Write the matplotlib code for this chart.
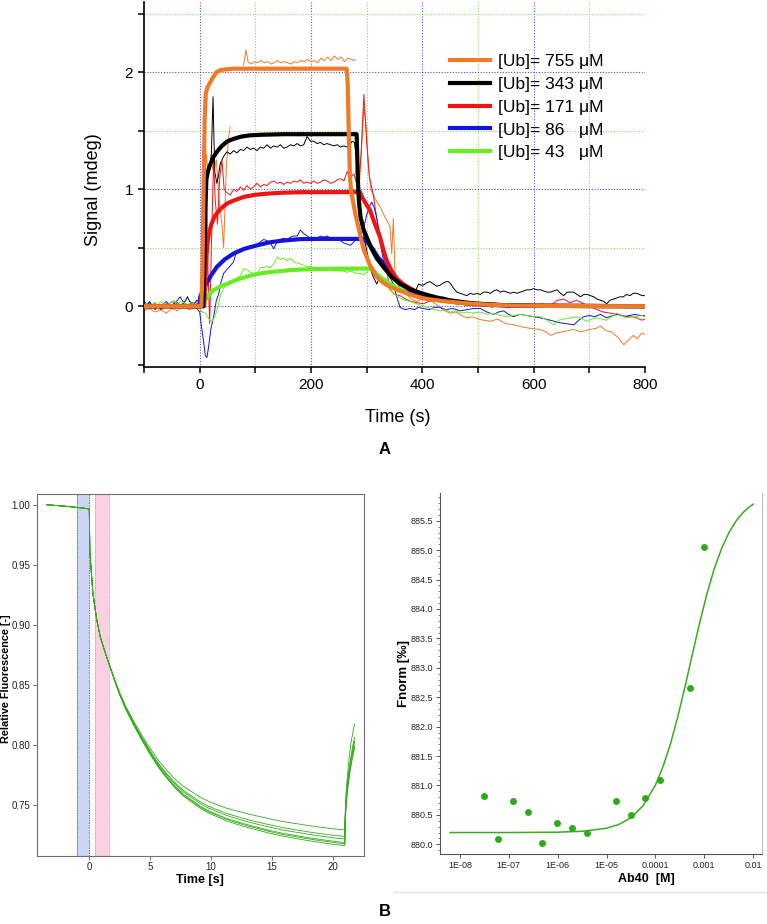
import numpy as np
import matplotlib
matplotlib.use("Agg")
import matplotlib.pyplot as plt
from matplotlib.lines import Line2D
from matplotlib.ticker import FixedLocator, MultipleLocator, NullLocator, FormatStrFormatter

plt.rcParams['font.family'] = ['Liberation Sans', 'DejaVu Sans']

# ---------------- panel A : CD signal vs time ----------------
labels_A = ["[Ub]= 755 μM", "[Ub]= 343 μM", "[Ub]= 171 μM", "[Ub]= 86   μM", "[Ub]= 43   μM"]
colors_A = ["#f07a28", "#000000", "#ee1414", "#1414dd", "#66ee22"]

# fitted curves (thick) as (time, signal)
orange_fit = [(-100, 0), (3, 0), (5, 0.3), (7, 1.0), (9, 1.6), (11, 1.82), (14, 1.87), (22, 1.94),
              (30, 2.0), (38, 2.02), (60, 2.03), (264, 2.03), (266, 1.9), (268, 1.45), (270, 1.1),
              (272, 0.99), (276, 0.88), (280, 0.78), (285, 0.68), (290, 0.57), (295, 0.48), (305, 0.36),
              (318, 0.25), (330, 0.2), (342, 0.165), (357, 0.135), (372, 0.11), (387, 0.085), (402, 0.066),
              (425, 0.05), (450, 0.037), (475, 0.026), (500, 0.018), (530, 0.01), (560, 0.006),
              (600, 0.003), (650, 0.001), (800, 0.0)]
black_fit = [(-100, 0), (6, 0), (8, 0.3), (10, 0.8), (12, 1.08), (14, 1.14), (18, 1.2), (24, 1.27),
             (31, 1.32), (40, 1.37), (50, 1.41), (61, 1.43), (75, 1.45), (90, 1.46), (110, 1.465),
             (150, 1.47), (282, 1.47), (283, 1.3), (284, 1.1), (286, 0.9), (289, 0.76), (294, 0.66),
             (300, 0.59), (308, 0.5), (318, 0.41), (331, 0.33), (345, 0.25), (360, 0.19), (380, 0.14),
             (402, 0.105), (425, 0.075), (450, 0.05), (480, 0.03), (510, 0.018), (550, 0.008),
             (600, 0.003), (800, 0.0)]
red_fit = [(-100, 0), (8, 0), (10, 0.2), (12, 0.42), (14, 0.53), (17, 0.63), (21, 0.7), (27, 0.77),
           (37, 0.83), (50, 0.88), (65, 0.91), (80, 0.935), (100, 0.952), (121, 0.962), (150, 0.97),
           (181, 0.974), (288, 0.975), (292, 0.93), (298, 0.88), (306, 0.82), (315, 0.7), (324, 0.59),
           (330, 0.48), (336, 0.39), (345, 0.3), (354, 0.236), (368, 0.18), (384, 0.137), (402, 0.095),
           (420, 0.066), (450, 0.04), (480, 0.024), (510, 0.014), (550, 0.007), (600, 0.003), (800, 0.0)]
blue_fit = [(-100, 0), (0, 0), (1, 0.08), (6, 0.14), (13, 0.2), (20, 0.26), (31, 0.336), (45, 0.4),
            (61, 0.45), (80, 0.49), (103, 0.52), (125, 0.545), (145, 0.558), (165, 0.567), (181, 0.573),
            (210, 0.575), (294, 0.575), (300, 0.55), (306, 0.52), (312, 0.48), (320, 0.42), (330, 0.365),
            (339, 0.3), (348, 0.25), (360, 0.2), (378, 0.137), (398, 0.095), (420, 0.066), (450, 0.04),
            (480, 0.024), (510, 0.014), (550, 0.007), (600, 0.003), (800, 0.0)]
green_fit = [(-100, 0), (3, 0), (8, 0.04), (15, 0.09), (25, 0.137), (37, 0.17), (49, 0.19), (61, 0.215),
             (73, 0.236), (90, 0.26), (109, 0.28), (127, 0.292), (145, 0.30), (163, 0.308), (181, 0.313),
             (210, 0.318), (240, 0.32), (306, 0.322), (312, 0.3), (318, 0.275), (324, 0.25), (333, 0.22),
             (342, 0.19), (357, 0.15), (372, 0.12), (390, 0.09), (420, 0.062), (450, 0.04), (480, 0.024),
             (510, 0.014), (550, 0.007), (600, 0.003), (800, 0.0)]

# raw traces (thin); nan = gap in the record
orange_raw = [(-100, -0.04), (-90, -0.02), (-80, -0.05), (-70, -0.03), (-60, -0.06), (-50, -0.02),
              (-40, -0.04), (-30, 0.0), (-20, -0.03), (-10, -0.02), (0, -0.01), (4, 0.3), (8, 0.9),
              (12, 1.3), (16, 1.1), (20, 1.25), (25, 1.15), (30, 1.25), (35, 0.9), (40, 0.7), (43, 0.5),
              (48, 1.2), (52, 1.45), (55, 1.53), (np.nan, np.nan),
              (79, 2.06), (83, 2.19), (87, 2.09), (92, 2.07), (98, 2.09), (104, 2.08), (110, 2.1),
              (116, 2.08), (122, 2.09), (128, 2.07), (134, 2.08), (140, 2.1), (146, 2.08), (152, 2.09),
              (158, 2.08), (164, 2.07), (170, 2.09), (176, 2.08), (182, 2.1), (188, 2.09), (194, 2.11),
              (200, 2.09), (206, 2.1), (212, 2.08), (218, 2.12), (224, 2.1), (230, 2.13), (236, 2.1),
              (242, 2.14), (248, 2.11), (254, 2.13), (260, 2.09), (266, 2.12), (272, 2.11), (276, 2.1),
              (280, 2.11), (np.nan, np.nan),
              (286, 0.95), (290, 1.3), (295, 1.7), (299, 1.55), (303, 1.2), (308, 0.99), (315, 0.92),
              (324, 0.85), (333, 0.76), (342, 0.68), (345, 0.45), (348, 0.75), (351, 0.25), (358, 0.17),
              (365, 0.12), (372, 0.1), (380, 0.06), (390, 0.04), (400, 0.06), (410, 0.08), (420, 0.03),
              (430, 0.0), (440, -0.04), (450, -0.06), (460, -0.05), (470, -0.08), (480, -0.1),
              (490, -0.09), (500, -0.11), (510, -0.12), (522, -0.13), (535, -0.11), (550, -0.15),
              (565, -0.16), (581, -0.18), (595, -0.19), (612, -0.2), (622, -0.22), (630, -0.25),
              (640, -0.23), (650, -0.22), (660, -0.21), (672, -0.2), (685, -0.22), (700, -0.2),
              (712, -0.19), (720, -0.17), (730, -0.21), (740, -0.22), (752, -0.27), (762, -0.33),
              (770, -0.29), (779, -0.25), (786, -0.28), (794, -0.23), (800, -0.24)]
black_raw = [(-100, 0.04), (-95, 0.02), (-90, 0.03), (-85, 0.0), (-80, -0.02), (-75, 0.01), (-70, -0.03),
             (-65, -0.01), (-60, 0.02), (-55, 0.0), (-50, -0.02), (-45, 0.01), (-40, 0.03), (-35, 0.01),
             (-30, 0.02), (-25, 0.05), (-22, 0.08), (-18, 0.04), (-14, 0.03), (-10, 0.02), (-5, 0.05),
             (0, 0.03), (4, 0.2), (7, 0.6), (10, 1.0), (14, 1.12), (18, 1.18), (21, 1.3), (24, 1.79),
             (27, 1.15), (31, 1.05), (34, 1.12), (37, 1.22), (43, 1.28), (49, 1.32), (55, 1.3),
             (61, 1.33), (67, 1.31), (73, 1.34), (79, 1.33), (85, 1.36), (91, 1.34), (97, 1.35),
             (103, 1.33), (109, 1.36), (115, 1.35), (121, 1.38), (127, 1.35), (133, 1.37), (139, 1.36),
             (145, 1.38), (151, 1.35), (157, 1.36), (163, 1.38), (169, 1.37), (175, 1.39), (181, 1.37),
             (187, 1.38), (193, 1.45), (199, 1.41), (205, 1.41), (211, 1.39), (217, 1.4), (223, 1.38),
             (229, 1.39), (235, 1.38), (241, 1.37), (247, 1.38), (253, 1.36), (259, 1.37), (265, 1.36),
             (270, 1.38), (274, 1.41), (278, 1.4), (283, 1.2), (288, 0.85), (294, 0.62), (299, 0.5),
             (304, 0.39), (308, 0.3), (312, 0.25), (318, 0.19), (323, 0.24), (327, 0.22), (333, 0.19),
             (340, 0.2), (347, 0.17), (354, 0.16), (360, 0.15), (366, 0.12), (372, 0.1), (378, 0.09),
             (384, 0.08), (389, 0.14), (393, 0.19), (398, 0.18), (402, 0.18), (408, 0.2), (414, 0.21),
             (420, 0.19), (426, 0.17), (432, 0.18), (438, 0.2), (444, 0.21), (447, 0.21), (451, 0.19),
             (455, 0.16), (462, 0.12), (468, 0.11), (474, 0.1), (480, 0.09), (486, 0.11), (492, 0.1),
             (498, 0.11), (504, 0.1), (510, 0.12), (516, 0.12), (522, 0.11), (528, 0.13), (534, 0.14),
             (540, 0.12), (546, 0.13), (552, 0.12), (558, 0.11), (564, 0.12), (570, 0.11), (576, 0.12),
             (582, 0.13), (588, 0.14), (594, 0.14), (600, 0.15), (606, 0.14), (612, 0.14), (618, 0.13),
             (624, 0.12), (630, 0.12), (636, 0.13), (642, 0.14), (648, 0.11), (654, 0.09), (660, 0.12),
             (666, 0.12), (672, 0.12), (678, 0.1), (684, 0.08), (690, 0.1), (696, 0.1), (702, 0.09),
             (708, 0.08), (714, 0.06), (720, 0.05), (726, 0.04), (731, 0.02), (737, 0.05), (743, 0.06),
             (749, 0.07), (755, 0.08), (761, 0.08), (767, 0.1), (773, 0.09), (779, 0.11), (785, 0.11),
             (790, 0.1), (795, 0.09), (800, 0.09)]
red_raw = [(-100, 0.02), (-90, -0.02), (-80, 0.03), (-70, -0.03), (-60, 0.0), (-50, 0.04), (-40, -0.01),
           (-30, 0.02), (-20, 0.0), (-10, 0.03), (0, 0.02), (5, 0.1), (9, 0.6), (12, 1.1), (15, 0.3),
           (18, -0.15), (21, 0.5), (25, 1.25), (28, 0.9), (32, 0.7), (36, 1.1), (40, 1.25), (44, 1.0),
           (49, 0.97), (55, 0.95), (61, 1.0), (67, 0.98), (73, 1.02), (79, 0.99), (85, 1.03), (91, 1.0),
           (97, 1.02), (103, 1.05), (109, 1.02), (115, 1.04), (121, 1.03), (127, 1.06), (133, 1.07),
           (139, 1.05), (145, 1.06), (151, 1.04), (157, 1.06), (163, 1.05), (169, 1.07), (175, 1.06),
           (181, 1.08), (187, 1.05), (193, 1.06), (199, 1.05), (205, 1.07), (211, 1.05), (217, 1.06),
           (223, 1.08), (229, 1.07), (235, 1.05), (241, 1.06), (247, 1.08), (253, 1.09), (259, 1.07),
           (265, 1.15), (270, 1.1), (277, 1.13), (285, 1.0), (290, 1.3), (295, 1.81), (300, 1.4),
           (305, 1.1), (312, 0.95), (318, 0.75), (324, 0.62), (330, 0.45), (336, 0.3), (342, 0.14),
           (350, 0.1), (360, 0.09), (370, 0.06), (380, 0.04), (390, 0.03), (402, 0.02), (411, 0.04),
           (420, 0.05), (430, 0.07), (438, 0.08), (445, 0.06), (455, 0.04), (468, 0.02), (480, 0.01),
           (495, 0.0), (510, 0.02), (525, -0.01), (540, 0.01), (555, -0.01), (570, 0.01), (585, 0.0),
           (600, -0.01), (615, 0.02), (630, 0.0), (642, 0.05), (654, 0.06), (665, 0.03), (677, 0.05),
           (690, 0.02), (700, 0.0), (714, -0.03), (725, -0.05), (738, -0.06), (750, -0.07),
           (760, -0.08), (768, -0.09), (778, -0.09), (785, -0.1), (794, -0.12), (800, -0.11)]
blue_raw = [(-100, 0.03), (-95, 0.01), (-90, 0.04), (-85, 0.0), (-80, -0.03), (-75, 0.01), (-70, -0.02),
            (-65, 0.02), (-60, 0.04), (-55, 0.01), (-50, -0.01), (-45, 0.03), (-40, 0.05), (-35, 0.08),
            (-30, 0.04), (-25, 0.02), (-20, 0.0), (-15, 0.03), (-10, 0.01), (-5, -0.02), (0, -0.05),
            (4, -0.2), (7, -0.3), (10, -0.42), (13, -0.44), (16, -0.35), (20, -0.2), (25, -0.09),
            (30, 0.05), (34, 0.1), (38, 0.2), (43, 0.28), (50, 0.32), (56, 0.35), (61, 0.38), (67, 0.48),
            (73, 0.47), (79, 0.5), (85, 0.49), (91, 0.52), (97, 0.5), (103, 0.52), (109, 0.55),
            (115, 0.57), (121, 0.56), (127, 0.54), (133, 0.49), (139, 0.55), (145, 0.57), (151, 0.58),
            (157, 0.57), (163, 0.59), (169, 0.6), (175, 0.6), (181, 0.65), (187, 0.62), (193, 0.6),
            (199, 0.58), (205, 0.56), (211, 0.58), (217, 0.6), (223, 0.59), (229, 0.6), (235, 0.58),
            (241, 0.57), (247, 0.59), (253, 0.56), (259, 0.54), (265, 0.53), (271, 0.52), (277, 0.55),
            (283, 0.58), (289, 0.6), (295, 0.68), (300, 0.78), (305, 0.85), (309, 0.89), (313, 0.85),
            (318, 0.76), (322, 0.62), (326, 0.5), (332, 0.34), (340, 0.26), (348, 0.19), (354, 0.08),
            (360, -0.01), (369, -0.03), (378, -0.02), (386, -0.03), (393, -0.01), (402, -0.02),
            (412, -0.03), (422, -0.01), (432, -0.01), (442, -0.03), (455, -0.02), (468, -0.04),
            (480, -0.03), (492, -0.02), (504, -0.02), (516, -0.05), (528, -0.07), (537, -0.05),
            (546, -0.04), (555, -0.07), (564, -0.09), (575, -0.07), (588, -0.08), (600, -0.09),
            (612, -0.1), (621, -0.11), (630, -0.12), (645, -0.14), (660, -0.15), (672, -0.16),
            (681, -0.12), (690, -0.09), (700, -0.08), (710, -0.09), (720, -0.07), (731, -0.1),
            (742, -0.08), (752, -0.07), (762, -0.09), (772, -0.08), (782, -0.07), (792, -0.08), (800, -0.08)]
green_raw = [(-100, 0.03), (-94, 0.02), (-88, 0.0), (-82, 0.03), (-76, 0.01), (-70, 0.04), (-64, 0.02),
             (-58, 0.0), (-52, 0.03), (-46, 0.05), (-40, 0.02), (-34, 0.04), (-28, 0.03), (-22, 0.01),
             (-16, 0.03), (-10, 0.02), (-5, 0.0), (0, -0.02), (5, -0.05), (10, -0.06), (13, -0.08),
             (18, -0.12), (22, -0.13), (26, -0.1), (30, -0.05), (34, 0.02), (37, 0.09), (43, 0.15),
             (49, 0.19), (55, 0.2), (61, 0.22), (67, 0.24), (73, 0.26), (79, 0.32), (85, 0.31), (91, 0.29),
             (97, 0.28), (103, 0.27), (109, 0.33), (115, 0.33), (121, 0.34), (127, 0.33), (133, 0.36),
             (139, 0.42), (145, 0.4), (151, 0.41), (157, 0.39), (163, 0.41), (169, 0.38), (175, 0.37),
             (181, 0.36), (187, 0.35), (193, 0.34), (199, 0.34), (205, 0.33), (211, 0.32), (217, 0.33),
             (223, 0.31), (229, 0.31), (235, 0.32), (241, 0.3), (247, 0.31), (253, 0.3), (259, 0.3),
             (265, 0.29), (271, 0.3), (277, 0.29), (283, 0.28), (289, 0.28), (295, 0.27), (300, 0.29),
             (304, 0.33), (307, 0.34), (312, 0.3), (318, 0.27), (324, 0.25), (333, 0.2), (342, 0.14),
             (351, 0.1), (360, 0.07), (369, 0.05), (378, 0.04), (390, 0.02), (402, 0.0), (414, -0.02),
             (423, -0.03), (432, -0.04), (441, -0.03), (450, -0.05), (460, -0.04), (470, -0.06),
             (480, -0.05), (492, -0.06), (504, -0.05), (516, -0.07), (528, -0.06), (540, -0.08),
             (552, -0.09), (564, -0.08), (576, -0.07), (588, -0.08), (600, -0.09), (612, -0.09),
             (624, -0.12), (636, -0.16), (645, -0.12), (654, -0.11), (666, -0.1), (678, -0.09),
             (687, -0.11), (696, -0.13), (705, -0.11), (714, -0.1), (722, -0.11), (731, -0.12),
             (740, -0.09), (749, -0.06), (758, -0.08), (767, -0.1), (776, -0.09), (785, -0.09),
             (794, -0.08), (800, -0.09)]

# ---------------- panel B left : stopped-flow traces ----------------
kin_time = [-3.5, -2.5, -1.5, -0.5, 0.0, 0.05, 0.3, 0.6, 0.9, 1.3, 1.7, 2.1, 2.5, 3.0, 3.6, 4.3, 5.0,
            5.7, 6.4, 7.0, 7.7, 8.4, 9.1, 9.8, 10.5, 11.2, 11.8, 12.5, 13.2, 13.9, 14.6, 15.3, 15.9,
            16.6, 17.3, 18.0, 18.7, 19.4, 20.0, 20.5, 21.0, 21.02, 21.1, 21.2, 21.35, 21.5, 21.65, 21.8]
kin_head = [1.000, 0.9992, 0.9983, 0.9972, 0.9965, 0.960, 0.926, 0.905, 0.890]
kin_tails = [
    [0.8773, 0.8656, 0.854, 0.8434, 0.832, 0.8207, 0.8084, 0.797, 0.7867, 0.7784, 0.7719, 0.7655, 0.761,
     0.7564, 0.7528, 0.7501, 0.7474, 0.7457, 0.7438, 0.742, 0.7404, 0.7388, 0.7373, 0.736, 0.7349,
     0.7338, 0.7327, 0.7317, 0.7308, 0.73, 0.7295, 0.729, 0.742, 0.760, 0.773, 0.789, 0.801, 0.810, 0.817],
    [0.8771, 0.8653, 0.8535, 0.8427, 0.831, 0.8193, 0.8066, 0.7949, 0.7843, 0.7756, 0.7688, 0.7621, 0.7574,
     0.7526, 0.7487, 0.7459, 0.743, 0.7412, 0.7391, 0.7372, 0.7355, 0.7338, 0.7323, 0.7309, 0.7298,
     0.7286, 0.7274, 0.7264, 0.7254, 0.7246, 0.7241, 0.7236, 0.738, 0.755, 0.767, 0.780, 0.790, 0.799, 0.806],
    [0.8771, 0.8652, 0.8533, 0.8424, 0.8306, 0.8188, 0.806, 0.7941, 0.7833, 0.7745, 0.7677, 0.7608, 0.756,
     0.7511, 0.7472, 0.7443, 0.7414, 0.7394, 0.7373, 0.7354, 0.7336, 0.7319, 0.7303, 0.7289, 0.7278,
     0.7266, 0.7254, 0.7244, 0.7234, 0.7226, 0.722, 0.7215, 0.736, 0.753, 0.765, 0.777, 0.787, 0.796, 0.803],
    [0.877, 0.865, 0.853, 0.842, 0.830, 0.818, 0.805, 0.793, 0.782, 0.773, 0.766, 0.759, 0.754, 0.749,
     0.745, 0.742, 0.739, 0.737, 0.7348, 0.7328, 0.731, 0.7292, 0.7276, 0.7262, 0.725, 0.7238, 0.7226,
     0.7215, 0.7205, 0.7197, 0.7191, 0.7186, 0.735, 0.752, 0.764, 0.776, 0.786, 0.795, 0.802],
    [0.877, 0.8649, 0.8529, 0.8419, 0.8298, 0.8177, 0.8047, 0.7926, 0.7815, 0.7725, 0.7654, 0.7584, 0.7533,
     0.7483, 0.7442, 0.7412, 0.7382, 0.7361, 0.7339, 0.7319, 0.7301, 0.7282, 0.7266, 0.7252, 0.724,
     0.7228, 0.7216, 0.7205, 0.7195, 0.7187, 0.718, 0.7176, 0.734, 0.750, 0.762, 0.774, 0.784, 0.792, 0.799],
    [0.8769, 0.8649, 0.8528, 0.8417, 0.8295, 0.8173, 0.8042, 0.792, 0.7808, 0.7717, 0.7645, 0.7574, 0.7523,
     0.7472, 0.7431, 0.74, 0.7369, 0.7348, 0.7325, 0.7305, 0.7287, 0.7268, 0.7252, 0.7238, 0.7225,
     0.7213, 0.7201, 0.719, 0.7179, 0.7171, 0.7165, 0.716, 0.733, 0.749, 0.760, 0.772, 0.782, 0.790, 0.797],
]
cold_band = (-1.0, 0.0)
hot_band = (0.5, 1.6)

# ---------------- panel B right : MST dose response ----------------
conc = [3.052e-8, 6.104e-8, 1.221e-7, 2.441e-7, 4.883e-7, 9.766e-7, 1.953e-6, 3.906e-6,
        1.5625e-5, 3.125e-5, 6.25e-5, 1.25e-4, 5e-4, 1e-3]
fnorm = [880.82, 880.09, 880.74, 880.55, 880.02, 880.36, 880.27, 880.20,
         880.74, 880.50, 880.79, 881.10, 882.65, 885.06]
fit_conc = [6.3e-9, 1e-7, 1e-6, 3.16e-6, 1e-5, 1.78e-5, 3.16e-5, 5.62e-5, 1e-4, 1.41e-4, 2.0e-4,
            2.82e-4, 3.98e-4, 5.62e-4, 7.94e-4, 1.12e-3, 1.58e-3, 2.24e-3, 3.16e-3, 4.47e-3,
            6.31e-3, 7.94e-3, 1e-2]
fit_fnorm = [880.20, 880.20, 880.206, 880.221, 880.274, 880.337, 880.452, 880.658, 881.006, 881.308,
             881.688, 882.146, 882.663, 883.21, 883.75, 884.246, 884.674, 885.022, 885.293, 885.498,
             885.646, 885.722, 885.782]
conc_ticks = [1e-8, 1e-7, 1e-6, 1e-5, 1e-4, 1e-3, 1e-2]
conc_labels = ["1E-08", "1E-07", "1E-06", "1E-05", "0.0001", "0.001", "0.01"]

W, H = 767, 924
fig = plt.figure(figsize=(W / 100, H / 100), dpi=100)


def box(x0, y0, x1, y1):
    # pixel box (top-left origin) -> figure fraction rect
    return [x0 / W, 1 - y1 / H, (x1 - x0) / W, (y1 - y0) / H]


# ===== panel A =====
axA = fig.add_axes(box(144, 2, 645, 367))
axA.set_xlim(-100, 800)
axA.set_ylim(-0.52, 2.6)
for gx in [0, 200, 400, 600]:
    axA.axvline(gx, color="#5050dd", lw=0.8, ls=(0, (1, 1.5)), zorder=0)
for gx in [100, 300, 500, 700]:
    axA.axvline(gx, color="#80dd60", lw=0.8, ls=(0, (1, 1.5)), zorder=0)
for gy in [0, 1, 2]:
    axA.axhline(gy, color="#5050dd", lw=0.8, ls=(0, (1, 1.5)), zorder=0)
for gy in [0.5, 1.5, 2.5]:
    axA.axhline(gy, color="#80dd60", lw=0.8, ls=(0, (1, 1.5)), zorder=0)

raws = [orange_raw, black_raw, red_raw, blue_raw, green_raw]
fits = [orange_fit, black_fit, red_fit, blue_fit, green_fit]
for raw, c in zip(raws, colors_A):
    r = np.array(raw, dtype=float)
    axA.plot(r[:, 0], r[:, 1], color=c, lw=0.7, zorder=2)
for i in [4, 3, 2, 1, 0]:
    f = np.array(fits[i], dtype=float)
    axA.plot(f[:, 0], f[:, 1], color=colors_A[i], lw=3.0, zorder=3, solid_capstyle="butt")

axA.spines["top"].set_visible(False)
axA.spines["right"].set_visible(False)
axA.spines["left"].set_linewidth(1.2)
axA.spines["bottom"].set_linewidth(1.2)
axA.xaxis.set_major_locator(FixedLocator(np.arange(-100, 801, 100)))
axA.set_xticklabels(["" if v % 200 else str(v) for v in range(-100, 801, 100)])
axA.yaxis.set_major_locator(FixedLocator([-0.5, 0, 0.5, 1, 1.5, 2, 2.5]))
axA.set_yticklabels(["", "0", "", "1", "", "2", ""])
axA.tick_params(direction="out", length=4, width=1.1, labelsize=11, pad=4)
axA.set_xlabel("Time (s)", fontsize=13)
axA.xaxis.set_label_coords(0.507, -0.115)
axA.set_ylabel("Signal (mdeg)", fontsize=13)
axA.yaxis.set_label_coords(-0.084, 0.485)

handles = [Line2D([], [], color=c, lw=3) for c in colors_A]
fig.legend(handles, labels_A, loc="upper left", bbox_to_anchor=(450 / W, 1 - 54 / H),
           frameon=False, fontsize=12.5, handlelength=2.3, handletextpad=0.45,
           labelspacing=0.44, borderpad=0, borderaxespad=0)
fig.text(385 / W, 1 - 450 / H, "A", fontsize=12, fontweight="bold", ha="center", va="center")

# ===== panel B left =====
spine_c = "#707070"
axB = fig.add_axes(box(36.7, 493.7, 364.3, 856))
axB.set_xlim(-4.32, 22.6)
axB.set_ylim(0.7073, 1.0092)
axB.axvspan(*cold_band, color="#ccd4f8", lw=0, zorder=0)
axB.axvspan(*hot_band, color="#fbd0e0", lw=0, zorder=0)
for xv in cold_band:
    axB.axvline(xv, color="#5060d0", lw=0.6, ls=(0, (2, 1)), zorder=1)
for xv in hot_band:
    axB.axvline(xv, color="#f090b0", lw=0.6, ls=(0, (2, 1)), zorder=1)
for tail in kin_tails:
    axB.plot(kin_time, kin_head + tail, color="#33aa1c", lw=0.6, zorder=2)
for s in axB.spines.values():
    s.set_color(spine_c)
    s.set_linewidth(0.8)
axB.xaxis.set_major_locator(FixedLocator([0, 5, 10, 15, 20]))
axB.yaxis.set_major_locator(FixedLocator([0.75, 0.80, 0.85, 0.90, 0.95, 1.00]))
axB.yaxis.set_major_formatter(FormatStrFormatter("%.2f"))
axB.tick_params(direction="out", length=3, width=0.7, labelsize=7, pad=1.5, color=spine_c,
                labelcolor="#222222")
axB.set_xlabel("Time [s]", fontsize=9, fontweight="bold")
axB.xaxis.set_label_coords(0.4985, -0.05)
axB.set_ylabel("Relative Fluorescence [-]", fontsize=7.8, fontweight="bold")
axB.yaxis.set_label_coords(-0.079, 0.489)

# ===== panel B right =====
axC = fig.add_axes(box(440.3, 492.5, 762, 854))
axC.set_xscale("log")
axC.set_xlim(3.98e-9, 1.51e-2)
axC.set_ylim(879.835, 885.98)
axC.plot(fit_conc, fit_fnorm, color="#3aaa1e", lw=1.1, zorder=2)
axC.plot(conc, fnorm, "o", color="#2eaa1a", ms=5, mec="none", zorder=3)
axC.spines["top"].set_visible(False)
axC.spines["left"].set_color("#555555")
axC.spines["bottom"].set_color("#555555")
axC.spines["right"].set_color("#bbbbbb")
for s in axC.spines.values():
    s.set_linewidth(0.8)
axC.xaxis.set_major_locator(FixedLocator(conc_ticks))
axC.xaxis.set_minor_locator(NullLocator())
axC.set_xticklabels(conc_labels)
axC.yaxis.set_major_locator(MultipleLocator(0.5))
axC.yaxis.set_minor_locator(MultipleLocator(0.1))
axC.yaxis.set_major_formatter(FormatStrFormatter("%.1f"))
axC.tick_params(which="major", direction="out", length=3, width=0.7, labelsize=6.5, pad=2,
                color="#555555", labelcolor="#222222")
axC.tick_params(which="minor", direction="out", length=1.5, width=0.5, color="#555555")
axC.set_xlabel("Ab40  [M]", fontsize=9, fontweight="bold")
axC.xaxis.set_label_coords(0.64, -0.053)
axC.set_ylabel("Fnorm [‰]", fontsize=9.5, fontweight="bold")
axC.yaxis.set_label_coords(-0.094, 0.50)

fig.add_artist(Line2D([393 / W, 1.0], [1 - 892 / H, 1 - 892 / H], color="#e2e2e2", lw=1.0))
fig.text(385 / W, 1 - 912 / H, "B", fontsize=12, fontweight="bold", ha="center", va="center")

fig.savefig("out.png", dpi=100)
